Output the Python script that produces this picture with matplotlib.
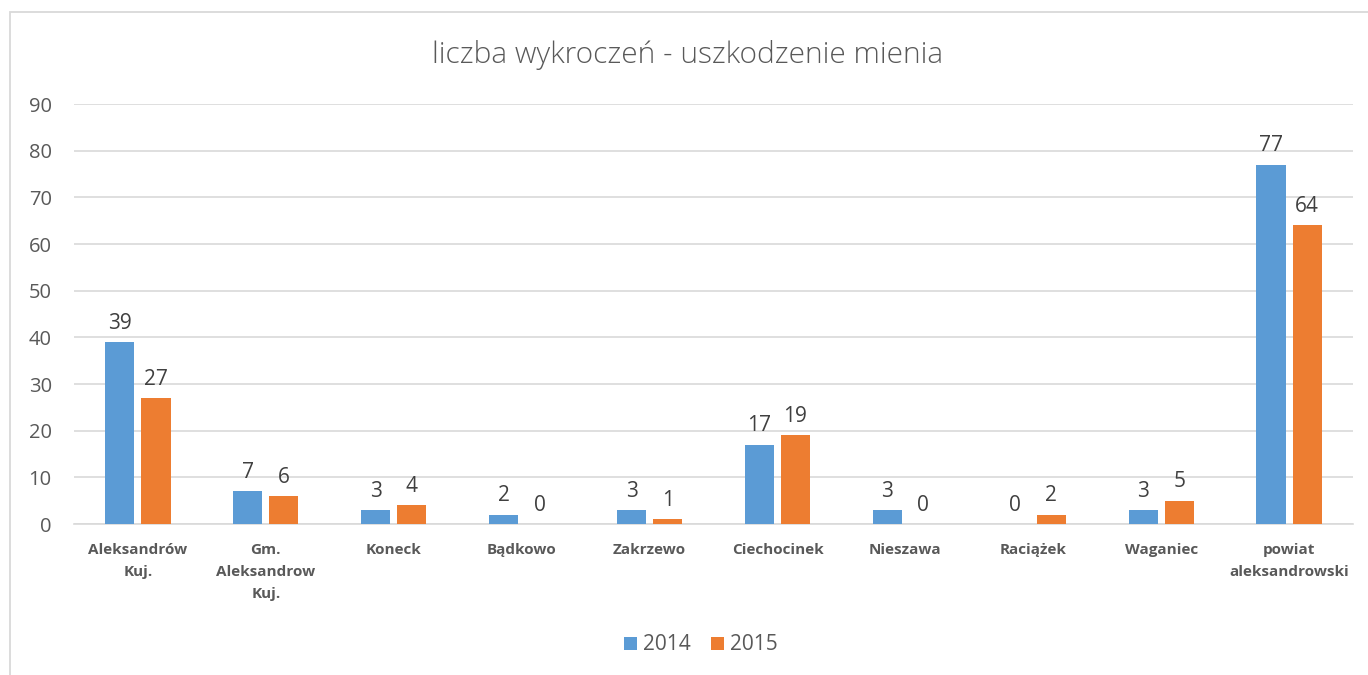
import matplotlib.pyplot as plt
import numpy as np
from matplotlib.patches import Rectangle

# Data
categories = ["Aleksandrów\nKuj.", "Gm.\nAleksandrow\nKuj.", "Koneck", "Bądkowo", "Zakrzewo",
              "Ciechocinek", "Nieszawa", "Raciążek", "Waganiec", "powiat\naleksandrowski"]
values_2014 = [39, 7, 3, 2, 3, 17, 3, 0, 3, 77]
values_2015 = [27, 6, 4, 0, 1, 19, 0, 2, 5, 64]
series_names = ["2014", "2015"]

blue = "#5B9BD5"
orange = "#ED7D31"
grey_text = "#595959"

plt.rcParams['font.family'] = ['Open Sans', 'DejaVu Sans']

fig = plt.figure(figsize=(13.68, 6.75), dpi=100)
ax = fig.add_axes([74 / 1368, 1 - 524 / 675, (1353 - 74) / 1368, (524 - 104) / 675])

# outer chart border (partly cut off on right/bottom as in the reference)
fig.patches.append(Rectangle((10 / 1368, -0.1), 1.2, 1.1 - 12 / 675,
                             transform=fig.transFigure, fill=False,
                             edgecolor="#D9D9D9", linewidth=1.3))

x = np.arange(len(categories))
width = 0.227
offset = 0.141
b1 = ax.bar(x - offset, values_2014, width, color=blue, label=series_names[0], zorder=3)
b2 = ax.bar(x + offset, values_2015, width, color=orange, label=series_names[1], zorder=3)

for bars, vals in ((b1, values_2014), (b2, values_2015)):
    for rect, v in zip(bars, vals):
        ax.annotate(str(v), (rect.get_x() + rect.get_width() / 2, v),
                    xytext=(0, 6), textcoords="offset points",
                    ha="center", va="bottom", fontsize=15, color="#404040")

ax.set_xlim(-0.5, len(categories) - 0.5)
ax.set_ylim(0, 90)
ax.set_yticks(range(0, 91, 10))
ax.yaxis.grid(True, color="#D9D9D9", linewidth=1.2, zorder=0)
ax.set_axisbelow(True)
for s in ("top", "right", "left"):
    ax.spines[s].set_visible(False)
ax.spines["bottom"].set_color("#D9D9D9")
ax.spines["bottom"].set_linewidth(1.2)
ax.tick_params(axis="y", length=0, labelsize=14.5, labelcolor=grey_text, pad=16)
ax.tick_params(axis="x", length=0, pad=14)
ax.set_xticks(x)
ax.set_xticklabels(categories, fontsize=11, fontweight="bold", color=grey_text,
                   linespacing=1.7)

fig.text(0.5026, 1 - 55 / 675, "liczba wykroczeń - uszkodzenie mienia",
         ha="center", va="center", fontsize=21.5, color=grey_text, fontweight="light")

ax.legend(loc="center", bbox_to_anchor=(701 / 1368, 1 - 645 / 675), bbox_transform=fig.transFigure,
          ncol=2, frameon=False, fontsize=15, handlelength=0.6, handleheight=0.6,
          handletextpad=0.3, columnspacing=1.0, labelcolor=grey_text)

fig.savefig("out.png", dpi=100)
